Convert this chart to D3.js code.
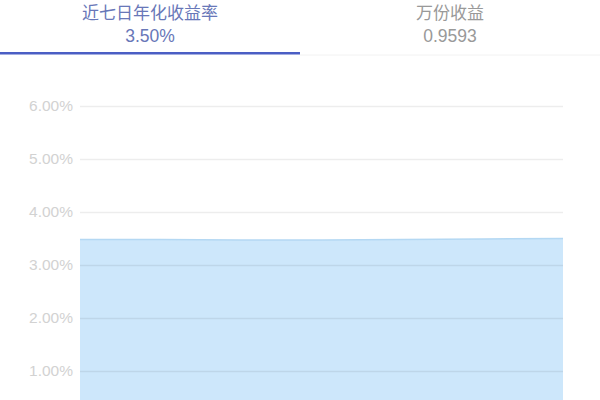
<!DOCTYPE html>
<html>
<head>
<meta charset="utf-8">
<script src="https://cdn.jsdelivr.net/npm/d3@7"></script>
<style>
  body { margin: 0; background: #fff; }
  svg { display: block; }
</style>
</head>
<body>
<div id="chart"></div>
<script>
// tabs at the top
var tabNames  = ["近七日年化收益率", "万份收益"];
var tabValues = ["3.50%", "0.9593"];

// seven-day annualised yield, percent
var days   = ["d1", "d2", "d3", "d4", "d5", "d6", "d7"];
var yields = [3.48, 3.48, 3.47, 3.47, 3.48, 3.49, 3.50];
var yTicks = [1, 2, 3, 4, 5, 6];

var width = 600, height = 400;

var svg = d3.select("#chart")
  .append("svg")
    .attr("width", width)
    .attr("height", height);

// header
var tabX = d3.scaleBand().domain(tabNames).range([0, width]);

svg.append("line")
  .attr("x1", 300).attr("x2", width)
  .attr("y1", 55).attr("y2", 55)
  .attr("style", "stroke: #f2f2f2; stroke-width: 1;");

var tabs = svg.selectAll("g.tab")
  .data(tabNames)
  .enter().append("g")
    .attr("class", "tab")
    .attr("transform", (d) => "translate(" + (tabX(d) + tabX.bandwidth() / 2) + ",0)");

tabs.append("text")
  .attr("y", 19)
  .attr("text-anchor", "middle")
  .attr("font-family", "'Noto Sans CJK SC', sans-serif")
  .attr("font-size", 17)
  .attr("fill", (d, i) => i == 0 ? "#6877b8" : "#999999")
  .text((d) => d);

tabs.append("text")
  .attr("y", 42)
  .attr("text-anchor", "middle")
  .attr("font-family", "'Liberation Sans', Arial, sans-serif")
  .attr("font-size", 17.5)
  .attr("fill", (d, i) => i == 0 ? "#6877b8" : "#999999")
  .text((d, i) => tabValues[i]);

svg.append("rect")
  .attr("x", tabX(tabNames[0]))
  .attr("y", 52)
  .attr("width", tabX.bandwidth())
  .attr("height", 2.5)
  .attr("fill", "#4b5ec4");

// chart
var x = d3.scalePoint().domain(days).range([80, 563]);
var y = d3.scaleLinear().domain([0, 6]).range([424, 106]);

var area = d3.area()
  .x((d, i) => x(days[i]))
  .y0(y(0))
  .y1((d) => y(d));

var line = d3.line()
  .x((d, i) => x(days[i]))
  .y((d) => y(d));

svg.append("path")
  .datum(yields)
  .attr("d", area)
  .attr("style", "fill: #cde7fb; stroke: none;");

svg.append("path")
  .datum(yields)
  .attr("d", line)
  .attr("style", "fill: none; stroke: #b4d8f3; stroke-width: 1.5;");

var yAxis = d3.axisLeft(y)
  .tickValues(yTicks)
  .tickSize(-(563 - 80))
  .tickPadding(7)
  .tickFormat((d) => d.toFixed(2) + "%");

var ax = svg.append("g")
  .attr("transform", "translate(80,0)")
  .call(yAxis);

ax.select(".domain").remove();
ax.selectAll(".tick line")
  .attr("stroke", "#000")
  .attr("stroke-opacity", 0.07)
  .attr("stroke-width", 1.5);
ax.selectAll(".tick text")
  .attr("font-family", "'Liberation Sans', Arial, sans-serif")
  .attr("font-size", 15.5)
  .attr("fill", "#d2d2d2");
</script>
</body>
</html>
